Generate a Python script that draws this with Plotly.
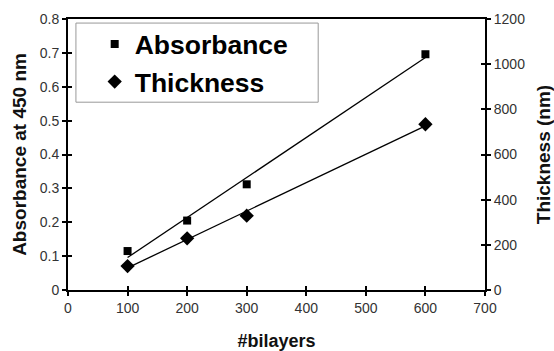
import numpy as np
import plotly.graph_objects as go

bilayers = [100, 200, 300, 600]
absorbance = [0.115, 0.205, 0.312, 0.696]
thickness = [106, 229, 329, 734]

x_ticks = [0, 100, 200, 300, 400, 500, 600, 700]
y_ticks = [0, 0.1, 0.2, 0.3, 0.4, 0.5, 0.6, 0.7, 0.8]
y_ticktext = ["0", "0.1", "0.2", "0.3", "0.4", "0.5", "0.6", "0.7", "0.8"]
y2_ticks = [0, 200, 400, 600, 800, 1000, 1200]

FONT = "Liberation Sans, Arial, sans-serif"

# linear trendlines fitted to the data
fit_x = [min(bilayers), max(bilayers)]
a_coef = np.polyfit(bilayers, absorbance, 1)
t_coef = np.polyfit(bilayers, thickness, 1)
a_fit = list(np.polyval(a_coef, fit_x))
t_fit = list(np.polyval(t_coef, fit_x))

fig = go.Figure()
fig.add_trace(go.Scatter(x=fit_x, y=a_fit, mode="lines", line=dict(color="black", width=1.3),
                         showlegend=False, hoverinfo="skip"))
fig.add_trace(go.Scatter(x=fit_x, y=t_fit, mode="lines", line=dict(color="black", width=1.3),
                         showlegend=False, hoverinfo="skip", yaxis="y2"))
fig.add_trace(go.Scatter(x=bilayers, y=absorbance, mode="markers", name="Absorbance",
                         marker=dict(symbol="square", size=8, color="black")))
fig.add_trace(go.Scatter(x=bilayers, y=thickness, mode="markers", name="Thickness", yaxis="y2",
                         marker=dict(symbol="diamond", size=11, color="black")))
# invisible helpers for crossing tick marks
fig.add_trace(go.Scatter(x=[None], y=[None], xaxis="x3", yaxis="y3", showlegend=False))
fig.add_trace(go.Scatter(x=[None], y=[None], xaxis="x3", yaxis="y4", showlegend=False))

tickfont = dict(family=FONT, size=14, color="#333333")
titlefont = dict(family=FONT, size=19, color="#111111", weight="bold")

common = dict(ticklen=4, tickwidth=2, tickcolor="black", showgrid=False, zeroline=False,
              automargin=False)

fig.update_layout(
    width=554, height=351,
    margin=dict(l=68, r=69, t=19, b=61),
    paper_bgcolor="white", plot_bgcolor="white",
    font=dict(family=FONT),
    xaxis=dict(range=[0, 700], tickvals=x_ticks, ticks="outside", showline=True, linewidth=2,
               linecolor="black", mirror=True, tickfont=tickfont,
               title=dict(text="#bilayers", font=dict(titlefont, size=18), standoff=22), **common),
    yaxis=dict(range=[0, 0.8], tickvals=y_ticks, ticktext=y_ticktext, ticks="outside",
               showline=True, linewidth=2, linecolor="black", tickfont=tickfont,
               title=dict(text="Absorbance at 450 nm", font=titlefont, standoff=8), **common),
    yaxis2=dict(range=[0, 1200], tickvals=y2_ticks, overlaying="y", side="right", anchor="x",
                ticks="outside", showline=True, linewidth=2, linecolor="black", tickfont=tickfont,
                title=dict(text="Thickness (nm)", font=titlefont, standoff=14), **common),
    xaxis3=dict(range=[0, 700], tickvals=x_ticks, overlaying="x", anchor="y", side="bottom",
                ticks="inside", showticklabels=False, showline=False, **common),
    yaxis3=dict(range=[0, 0.8], tickvals=y_ticks, overlaying="y", anchor="x", side="left",
                ticks="inside", showticklabels=False, showline=False, **common),
    yaxis4=dict(range=[0, 1200], tickvals=y2_ticks, overlaying="y", anchor="x", side="right",
                ticks="inside", showticklabels=False, showline=False, **common),
    legend=dict(x=0.064, y=0.995, xanchor="left", yanchor="top", bgcolor="rgba(0,0,0,0)",
                borderwidth=0, font=dict(family=FONT, size=26.5, color="black", weight="bold"),
                itemsizing="trace", tracegroupgap=0),
    shapes=[dict(type="rect", xref="paper", yref="paper", x0=0.019, x1=0.6, y0=0.693, y1=0.985,
                 line=dict(color="#999999", width=1), fillcolor="rgba(0,0,0,0)")],
    showlegend=True,
)

fig.write_html("out.html", config={"displayModeBar": False},
               post_script="document.body.style.margin='0';")
